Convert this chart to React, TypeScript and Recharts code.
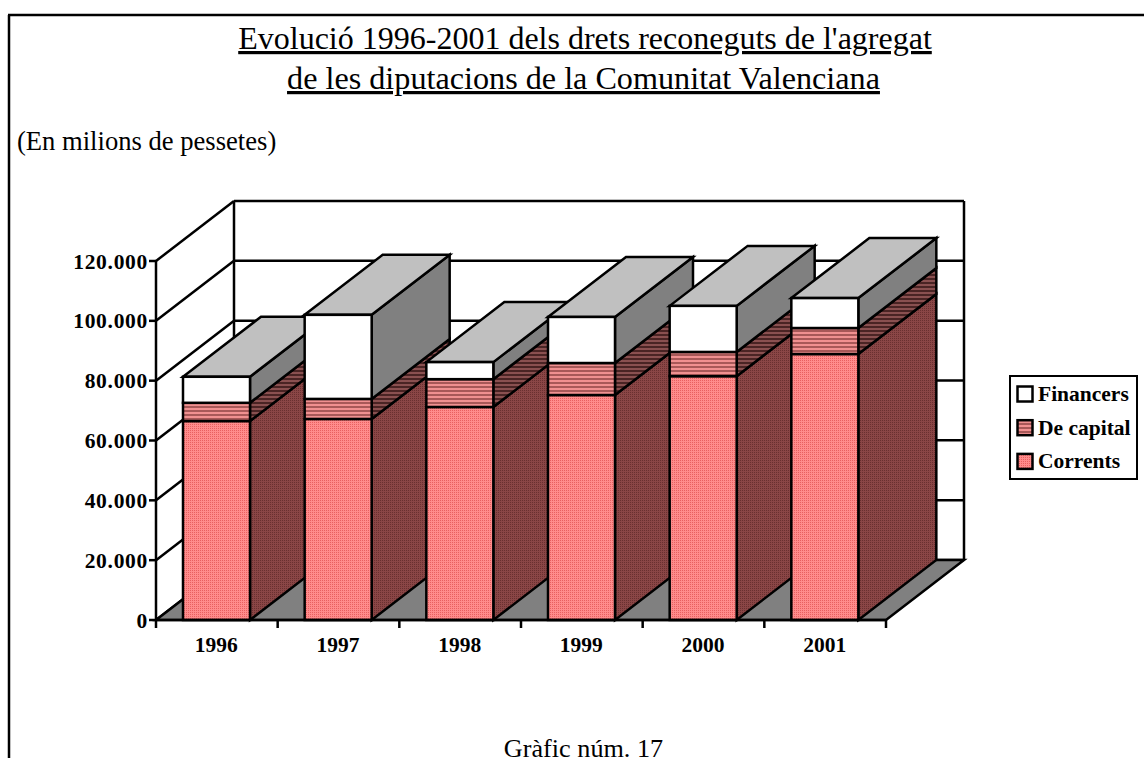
import React from 'react';
import { BarChart, Bar, XAxis, YAxis, CartesianGrid, Legend } from 'recharts';

const years = ['1996', '1997', '1998', '1999', '2000', '2001'];
const corrents = [66500, 67200, 71200, 75200, 81500, 88900];
const deCapital = [6100, 6700, 9300, 10700, 8100, 8700];
const financers = [8700, 28100, 5700, 15400, 15400, 10000];
const yTicks = [0, 20000, 40000, 60000, 80000, 100000, 120000];

const legendItems = [
  { label: 'Financers', fill: '#fff' },
  { label: 'De capital', fill: 'url(#capitalFront)' },
  { label: 'Corrents', fill: 'url(#correntsFront)' },
];

const data = years.map((year, i) => ({
  year,
  corrents: corrents[i],
  deCapital: deCapital[i],
  financers: financers[i],
  total: corrents[i] + deCapital[i] + financers[i],
}));

const WIDTH = 1144;
const HEIGHT = 758;
const LEFT = 156;
const RIGHT = 886;
const TOP = 261;
const BOTTOM = 620;
const X_AXIS_HEIGHT = 60;
const DEPTH_X = 78;
const DEPTH_Y = 60;
const FONT = '"Liberation Serif", "Times New Roman", serif';
const LINE = 2.5;

const fmt = (v: number) => (v === 0 ? '0' : `${v / 1000}.000`);

// one column at a time, otherwise the side of a bar would paint over the next bar's front
const Column3D = (props: any) => {
  const { x, y, width, height, payload } = props;
  const perUnit = height / payload.total;
  const segments = [
    { value: payload.corrents, front: 'url(#correntsFront)', side: 'url(#correntsSide)' },
    { value: payload.deCapital, front: 'url(#capitalFront)', side: 'url(#capitalSide)' },
    { value: payload.financers, front: '#fff', side: '#808080' },
  ];
  let bottom = y + height;
  const parts = segments.map((s) => {
    const top = bottom - s.value * perUnit;
    const part = { ...s, top, bottom };
    bottom = top;
    return part;
  });
  const right = x + width;
  return (
    <g stroke="#000" strokeWidth={LINE} strokeLinejoin="miter">
      {parts.map((p, i) => (
        <polygon
          key={`side-${i}`}
          fill={p.side}
          points={`${right},${p.bottom} ${right + DEPTH_X},${p.bottom - DEPTH_Y} ${right + DEPTH_X},${p.top - DEPTH_Y} ${right},${p.top}`}
        />
      ))}
      <polygon
        fill="#c0c0c0"
        points={`${x},${y} ${x + DEPTH_X},${y - DEPTH_Y} ${right + DEPTH_X},${y - DEPTH_Y} ${right},${y}`}
      />
      {parts.map((p, i) => (
        <rect key={`front-${i}`} x={x} y={p.top} width={width} height={p.bottom - p.top} fill={p.front} />
      ))}
    </g>
  );
};

// walls: every y tick runs along the left wall and then along the back wall
const WallLine = (props: any) => {
  const { x1, x2, y1 } = props;
  return (
    <g stroke="#000" strokeWidth={LINE}>
      <line x1={x1} y1={y1} x2={x1 + DEPTH_X} y2={y1 - DEPTH_Y} />
      <line x1={x1 + DEPTH_X} y1={y1 - DEPTH_Y} x2={x2 + DEPTH_X} y2={y1 - DEPTH_Y} />
    </g>
  );
};

const YearTick = (props: any) => {
  const { x, payload, index } = props;
  const band = (RIGHT - LEFT) / years.length;
  return (
    <g>
      <line x1={x + band / 2} y1={BOTTOM} x2={x + band / 2} y2={BOTTOM + 8} stroke="#000" strokeWidth={LINE} />
      {index === 0 && <line x1={x - band / 2} y1={BOTTOM} x2={x - band / 2} y2={BOTTOM + 8} stroke="#000" strokeWidth={LINE} />}
      <text x={x - 0.5} y={BOTTOM + 32} textAnchor="middle" fontFamily={FONT} fontSize={21.5} fontWeight="bold" fill="#000">
        {payload.value}
      </text>
    </g>
  );
};

const LegendBox = () => (
  <div
    style={{
      position: 'absolute',
      left: 1009,
      top: 375,
      width: 129,
      height: 105,
      boxSizing: 'border-box',
      border: '2.5px solid #000',
      background: '#fff',
    }}
  >
    <svg width={125} height={101} style={{ display: 'block' }}>
      {legendItems.map((item, i) => (
        <g key={item.label}>
          <rect x={6.5} y={9.5 + i * 33.7} width={15} height={15} fill={item.fill} stroke="#000" strokeWidth={2.5} />
          <text x={27} y={24 + i * 33.7} fontFamily={FONT} fontSize={21.5} fontWeight="bold" fill="#000">
            {item.label}
          </text>
        </g>
      ))}
    </svg>
  </div>
);

export default function App() {
  return (
    <div style={{ position: 'absolute', left: 0, top: 0, width: WIDTH, height: HEIGHT, background: '#fff', overflow: 'hidden' }}>
      <BarChart
        width={WIDTH}
        height={HEIGHT}
        data={data}
        margin={{ top: TOP, right: WIDTH - RIGHT, bottom: HEIGHT - BOTTOM - X_AXIS_HEIGHT, left: 0 }}
        barSize={67}
      >
        <defs>
          <pattern id="correntsFront" width={2} height={2} patternUnits="userSpaceOnUse">
            <rect width={2} height={2} fill="#ff8c8c" />
            <rect width={1} height={1} fill="#e86060" />
          </pattern>
          <pattern id="correntsSide" width={2} height={2} patternUnits="userSpaceOnUse">
            <rect width={2} height={2} fill="#8a4646" />
            <rect width={1} height={1} fill="#6a3030" />
          </pattern>
          <pattern id="capitalFront" width={3} height={4} patternUnits="userSpaceOnUse">
            <rect width={3} height={4} fill="#f09090" />
            <rect y={2} width={3} height={2} fill="#a85858" />
          </pattern>
          <pattern id="capitalSide" width={3} height={4} patternUnits="userSpaceOnUse">
            <rect width={3} height={4} fill="#8a5050" />
            <rect y={2} width={3} height={2} fill="#4a2424" />
          </pattern>
        </defs>

        {/* frame of the picture, only left and top are visible */}
        <line x1={9} y1={758} x2={9} y2={15} stroke="#000" strokeWidth={2.5} />
        <line x1={8} y1={15} x2={1144} y2={15} stroke="#000" strokeWidth={2.5} />

        <text x={585} y={49} textAnchor="middle" fontFamily={FONT} fontSize={32} textDecoration="underline" fill="#000">
          Evolució 1996-2001 dels drets reconeguts de l'agregat
        </text>
        <text x={583.5} y={89} textAnchor="middle" fontFamily={FONT} fontSize={32.2} textDecoration="underline" fill="#000">
          de les diputacions de la Comunitat Valenciana
        </text>
        <text x={17} y={150} fontFamily={FONT} fontSize={26.6} fill="#000">
          (En milions de pessetes)
        </text>
        <text x={583.5} y={757} textAnchor="middle" fontFamily={FONT} fontSize={26.2} fill="#000">
          Gràfic núm. 17
        </text>

        {/* floor and back wall */}
        <polygon
          fill="#808080"
          stroke="#000"
          strokeWidth={LINE}
          points={`${LEFT},${BOTTOM} ${LEFT + DEPTH_X},${BOTTOM - DEPTH_Y} ${RIGHT + DEPTH_X},${BOTTOM - DEPTH_Y} ${RIGHT},${BOTTOM}`}
        />
        <line x1={LEFT + DEPTH_X} y1={TOP - DEPTH_Y} x2={LEFT + DEPTH_X} y2={BOTTOM - DEPTH_Y} stroke="#000" strokeWidth={LINE} />
        <line x1={RIGHT + DEPTH_X} y1={TOP - DEPTH_Y} x2={RIGHT + DEPTH_X} y2={BOTTOM - DEPTH_Y} stroke="#000" strokeWidth={LINE} />

        <CartesianGrid vertical={false} horizontal={(p: any) => <WallLine key={p.key} {...p} />} />
        <XAxis
          dataKey="year"
          height={X_AXIS_HEIGHT}
          axisLine={{ stroke: '#000', strokeWidth: LINE }}
          tickLine={false}
          tick={YearTick}
          interval={0}
        />
        <YAxis
          width={LEFT}
          domain={[0, 120000]}
          ticks={yTicks}
          tickFormatter={fmt}
          interval={0}
          axisLine={{ stroke: '#000', strokeWidth: LINE }}
          tickLine={{ stroke: '#000', strokeWidth: LINE }}
          tickSize={7}
          tickMargin={1}
          tick={{ fill: '#000', fontFamily: FONT, fontSize: 21.5, fontWeight: 'bold', letterSpacing: 0.7 }}
        />
        <Bar dataKey="total" shape={Column3D} isAnimationActive={false} />
        <Legend content={LegendBox} wrapperStyle={{ position: 'absolute', left: 0, top: 0, width: 0, height: 0, bottom: 'auto' }} />
      </BarChart>
    </div>
  );
}
